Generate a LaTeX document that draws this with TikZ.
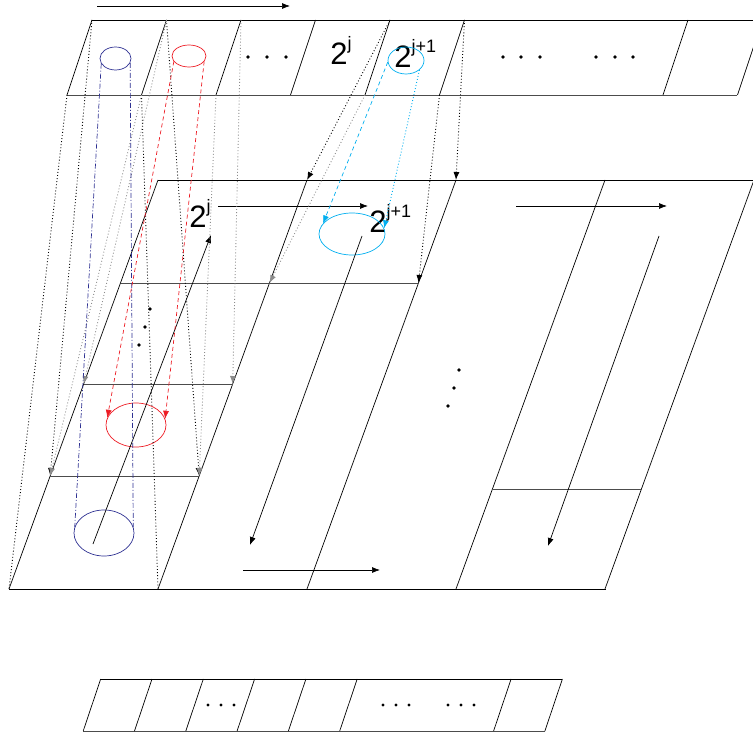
\documentclass[tikz,border=0pt]{standalone}
\usepackage{fontspec}
\setmainfont{Liberation Sans}
\usetikzlibrary{arrows.meta, shapes.geometric}

\definecolor{dkblue}{RGB}{46,49,146}
\definecolor{ltred}{RGB}{237,28,36}
\definecolor{skyblue}{RGB}{0,174,239}
\definecolor{dotgray}{RGB}{140,140,140}

\newcommand{\pw}[1]{{\fontsize{31}{31}\selectfont 2}\raisebox{15pt}{\fontsize{18}{18}\selectfont #1}}

\begin{document}
\begin{tikzpicture}[x = 1pt, y = -1pt, line width = 0.7pt,
  tip/.style = {-{Latex[length = 8pt, width = 6pt]}},
  blk/.style = {line width = 0.9pt, dash pattern = on 0.9pt off 2.2pt},
  gry/.style = {dotgray, line width = 0.9pt, dash pattern = on 0.9pt off 2.2pt},
  ring/.style = {ellipse, draw, inner sep = 0pt},
  lab/.style = {inner sep = 0pt, anchor = base west},
  rowline/.style = {black!70}]
\useasboundingbox (0,0) rectangle (753,733);
\clip (0,0) rectangle (753,733);

\draw[tip] (97,6) -- (290,6);

\draw (92,20) -- (762,20);
\draw[rowline] (67,95) -- (737,95);
\foreach \k in {0,1,2,3,4,5,8,9} {
  \coordinate (t\k) at (92+74.5*\k,20);
  \coordinate (b\k) at (67+74.5*\k,95);
  \draw (t\k) -- (b\k);
}
\foreach \x in {248,267,286,503,521,540,596,615,633} \fill (\x,57) circle (1.8pt);
\node[lab] (pj) at (330,65) {\pw{j}};
\node[lab] (pj1) at (394,68) {\pw{j+1}};
\node[ring, dkblue, minimum width = 31pt, minimum height = 23pt] (bt) at (115.5,58.5) {};
\node[ring, ltred, minimum width = 34pt, minimum height = 22pt] (rt) at (189,56) {};
\node[ring, skyblue, minimum width = 36pt, minimum height = 27pt] (ct) at (406,60.5) {};

\draw (158,180) -- (755,180);
\draw (9,589) -- (606,589);
\foreach \k in {0,...,4} \draw (9+149*\k,589) -- (158+149*\k,180);
\draw[rowline] (120.5,283) -- (418.5,283);
\draw[rowline] (83.7,384) -- (232.7,384);
\draw[rowline] (50.2,476) -- (199.2,476);
\draw[rowline] (492.4,489) -- (641.4,489);

\coordinate (base0) at (9,589);
\coordinate (base1) at (158,589);
\coordinate (q0) at (50.2,476);
\coordinate (q1) at (199.2,476);
\coordinate (p0) at (83.7,384);
\coordinate (p1) at (232.7,384);
\coordinate (h1) at (269.5,283);
\coordinate (h2) at (418.5,283);
\coordinate (top1) at (307,180);
\coordinate (top2) at (456,180);

\node[lab] (mj) at (189,228) {\pw{j}};
\node[lab] (mj1) at (369,233) {\pw{j+1}};
\node[ring, ltred, minimum width = 60pt, minimum height = 44pt] (rm) at (136,425) {};
\node[ring, dkblue, minimum width = 60pt, minimum height = 46pt] (bb) at (104,533) {};
\node[ring, skyblue, minimum width = 66pt, minimum height = 42pt] (cm) at (352,234) {};

\draw[tip] (93,544) -- (211,235);
\draw[tip] (218,206) -- (368,206);
\draw[tip] (362,236) -- (250,545);
\draw[tip] (243,570) -- (380,570);
\draw[tip] (516,206) -- (667,206);
\draw[tip] (659,236) -- (548,546);
\foreach \x/\y in {150/309,145/327,139/345,459/370,454/388,448/406} \fill (\x,\y) circle (1.8pt);

\draw[blk] (b0) -- (base0);
\draw[blk, tip] (t0) -- (q0);
\draw[blk, tip] (t1) -- (q1);
\draw[blk] (b1) -- (base1);
\draw[gry, tip] (t1) -- (p0);
\draw[gry, tip] (t2) -- (p1);
\draw[gry, tip] (b1) -- (q0);
\draw[gry, tip] (b2) -- (q1);
\draw[blk, tip] (t4) -- (top1);
\draw[blk, tip] (t5) -- (top2);
\draw[gry, tip] (b4) -- (h1);
\draw[blk, tip] (b5) -- (h2);

\draw[dkblue, dash pattern = on 5pt off 2pt on 1pt off 2pt] (bt.200) -- (bb.168);
\draw[dkblue, dash pattern = on 5pt off 2pt on 1pt off 2pt] (bt.343) -- (bb.12);
\draw[ltred, dash pattern = on 4pt off 3pt, tip] (rt.200) -- (rm.166);
\draw[ltred, dash pattern = on 4pt off 3pt, tip] (rt.340) -- (rm.12);
\draw[skyblue, dash pattern = on 4pt off 3pt, tip] (ct.185) -- (cm.160);
\draw[skyblue, line width = 0.9pt, dash pattern = on 0.9pt off 2.2pt, tip] (ct.325) -- (cm.10);

\draw (100.7,679) -- (562.4,679);
\draw[rowline] (83.2,731) -- (544.9,731);
\foreach \k in {0,1,2,3,4,5,8,9} \draw (100.7+51.3*\k,679) -- (83.2+51.3*\k,731);
\foreach \x in {208,221,234,383,396,409,448,461,474} \fill (\x,705) circle (1.6pt);
\end{tikzpicture}
\end{document}
